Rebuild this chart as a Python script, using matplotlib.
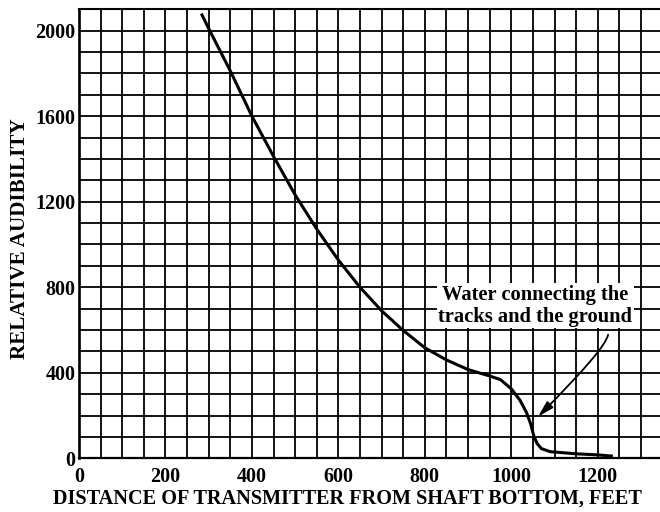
import numpy as np
import matplotlib
matplotlib.use("Agg")
import matplotlib.pyplot as plt

# Relative audibility vs. distance of transmitter from the shaft bottom
distance_ft = [283, 300, 350, 400, 450, 500, 550, 600, 650, 700, 750, 800,
               850, 900, 950, 975, 1000, 1020, 1035, 1045, 1052, 1060, 1070,
               1090, 1150, 1200, 1235]
audibility = [2080, 2010, 1812, 1600, 1412, 1232, 1072, 927, 800, 690, 598, 517,
              460, 415, 385, 368, 325, 272, 215, 160, 105, 68, 45,
              31, 21, 16, 10]

x_tick_values = [0, 200, 400, 600, 800, 1000, 1200]
y_tick_values = [0, 400, 800, 1200, 1600, 2000]

x_title = "DISTANCE OF TRANSMITTER FROM SHAFT BOTTOM, FEET"
y_title = "RELATIVE AUDIBILITY"
note_text = "Water connecting the\ntracks and the ground"
note_pos = (1055, 714)
arrow_tail = (1224, 578)
arrow_head = (1062, 195)

FONT = "Liberation Serif"
W, H = 660, 512

fig = plt.figure(figsize=(W / 100, H / 100), dpi=100)
ax = fig.add_axes([79 / W, 1 - 458.3 / H, 1 - 79 / W, (458.3 - 9.3) / H])
ax.set_xlim(0, 1344)
ax.set_ylim(0, 2100)

# Graph-paper grid: every 50 ft across, every 100 units up
for gx in np.arange(50, 1301, 50):
    ax.axvline(gx, color="black", lw=1.3, zorder=1)
for gy in np.arange(100, 2101, 100):
    ax.axhline(gy, color="black", lw=1.3, zorder=1)

ax.plot(distance_ft, audibility, color="black", lw=2.2, solid_capstyle="butt",
        solid_joinstyle="round", zorder=3)

ax.set_xticks(x_tick_values)
ax.set_yticks(y_tick_values)
ax.set_xticklabels([str(v) for v in x_tick_values], fontfamily=FONT,
                   fontweight="bold", fontsize=14.5)
ax.set_yticklabels([str(v) for v in y_tick_values], fontfamily=FONT,
                   fontweight="bold", fontsize=14.5)
ax.tick_params(axis="x", length=0, pad=6)
ax.tick_params(axis="y", length=0, pad=2.5)

ax.spines["right"].set_visible(False)
ax.spines["left"].set_linewidth(1.9)
ax.spines["bottom"].set_linewidth(1.6)
ax.spines["top"].set_linewidth(1.5)

# Axis titles placed in figure pixels
fig.text(347 / W, 1 - 498.5 / H, x_title, ha="center", va="center",
         fontfamily=FONT, fontweight="bold", fontsize=14.6)
fig.text(20 / W, 1 - 239 / H, y_title, ha="center", va="center",
         rotation=90, fontfamily=FONT, fontweight="bold", fontsize=15.2)

ax.text(note_pos[0], note_pos[1], note_text, ha="center", va="center",
        fontfamily=FONT, fontweight="bold", fontsize=14.8, linespacing=1.15,
        zorder=4, bbox=dict(facecolor="white", edgecolor="none", pad=1.0))

ax.annotate("", xy=arrow_head, xytext=arrow_tail, zorder=4,
            arrowprops=dict(arrowstyle="-|>,head_length=0.8,head_width=0.22",
                            connectionstyle="angle3,angleA=-100,angleB=45",
                            color="black", lw=1.3, mutation_scale=12,
                            shrinkA=0, shrinkB=0))

fig.savefig("out.png", dpi=100)
